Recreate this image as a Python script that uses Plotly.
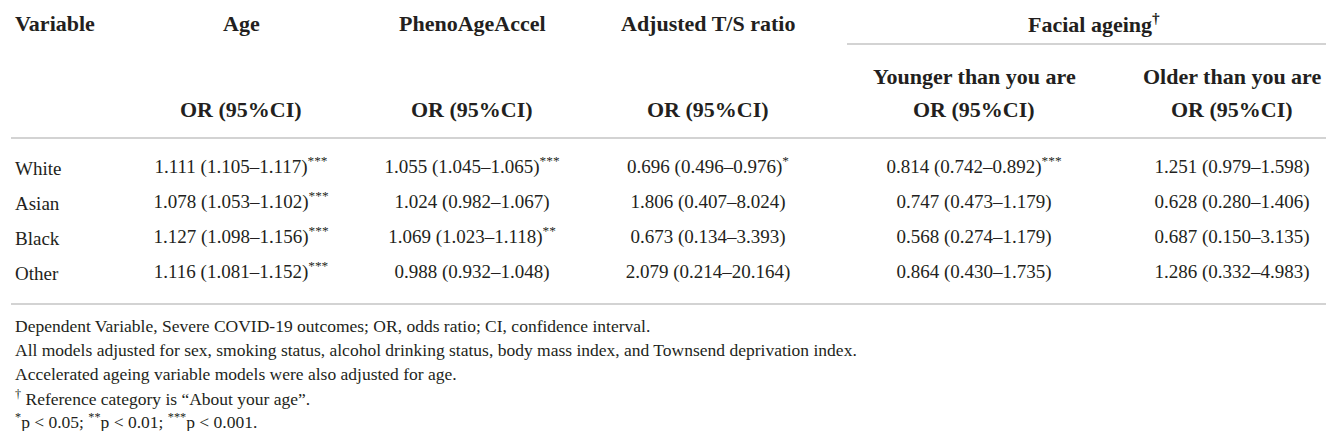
import plotly.graph_objects as go

# Table content
groups = ["White", "Asian", "Black", "Other"]
age_or = ["1.111 (1.105–1.117)<sup>***</sup>", "1.078 (1.053–1.102)<sup>***</sup>",
          "1.127 (1.098–1.156)<sup>***</sup>", "1.116 (1.081–1.152)<sup>***</sup>"]
pheno_or = ["1.055 (1.045–1.065)<sup>***</sup>", "1.024 (0.982–1.067)",
            "1.069 (1.023–1.118)<sup>**</sup>", "0.988 (0.932–1.048)"]
ts_or = ["0.696 (0.496–0.976)<sup>*</sup>", "1.806 (0.407–8.024)",
         "0.673 (0.134–3.393)", "2.079 (0.214–20.164)"]
younger_or = ["0.814 (0.742–0.892)<sup>***</sup>", "0.747 (0.473–1.179)",
              "0.568 (0.274–1.179)", "0.864 (0.430–1.735)"]
older_or = ["1.251 (0.979–1.598)", "0.628 (0.280–1.406)",
            "0.687 (0.150–3.135)", "1.286 (0.332–4.983)"]

col_titles = ["Age", "PhenoAgeAccel", "Adjusted T/S ratio"]
facial_title = "Facial ageing<sup>†</sup>"
facial_subs = ["Younger than you are", "Older than you are"]
or_label = "OR (95%CI)"

footnotes = [
    "Dependent Variable, Severe COVID-19 outcomes; OR, odds ratio; CI, confidence interval.",
    "All models adjusted for sex, smoking status, alcohol drinking status, body mass index, and Townsend deprivation index.",
    "Accelerated ageing variable models were also adjusted for age.",
    "<sup>†</sup> Reference category is “About your age”.",
    "<sup>*</sup>p &lt; 0.05; <sup>**</sup>p &lt; 0.01; <sup>***</sup>p &lt; 0.001.",
]

# layout (pixel positions on a 1334 x 431 canvas)
W, H = 1334, 431
col_x = [233, 464, 700, 966, 1224]
row_y = [160, 195, 230, 265]
note_y = [318, 342, 366, 390, 413]
txt = "#231f20"
serif = "Liberation Serif"

fig = go.Figure()

for cx, vals in zip(col_x, [age_or, pheno_or, ts_or, younger_or, older_or]):
    fig.add_trace(go.Scatter(
        x=[cx] * len(vals), y=row_y, mode="text", text=vals,
        textposition="middle center",
        textfont=dict(family=serif, size=19, color=txt),
        hoverinfo="skip", showlegend=False,
    ))

ann = []
hdr = dict(family=serif, size=22, color=txt)
ann.append(dict(x=5, y=15, text="<b>Variable</b>", xanchor="left", font=hdr))
for cx, t in zip(col_x[:3], col_titles):
    ann.append(dict(x=cx, y=15, text="<b>" + t + "</b>", font=hdr))
ann.append(dict(x=1086, y=15, text="<b>" + facial_title + "</b>", font=hdr))
for cx, t in zip(col_x[3:], facial_subs):
    ann.append(dict(x=cx, y=68, text="<b>" + t + "</b>", font=hdr))
for cx in col_x:
    ann.append(dict(x=cx, y=101, text="<b>" + or_label + "</b>", font=hdr))

for gy, g in zip(row_y, groups):
    ann.append(dict(x=5, y=gy, text=g, xanchor="left",
                    font=dict(family=serif, size=19, color=txt)))
for ny, n in zip(note_y, footnotes):
    ann.append(dict(x=5, y=ny, text=n, xanchor="left",
                    font=dict(family=serif, size=17.5, color=txt)))

for a in ann:
    a.update(xref="x", yref="y", showarrow=False, yanchor="middle")
    a.setdefault("xanchor", "center")

line = dict(color="#c4c4c4", width=1.5)
shapes = [
    dict(type="line", x0=3, x1=1331, y0=130, y1=130, line=line),
    dict(type="line", x0=839, x1=1331, y0=36, y1=36, line=line),
    dict(type="line", x0=3, x1=1331, y0=296, y1=296, line=line),
]
for s in shapes:
    s.update(xref="x", yref="y")

fig.update_layout(
    width=W, height=H, margin=dict(l=0, r=0, t=0, b=0),
    paper_bgcolor="white", plot_bgcolor="white",
    annotations=ann, shapes=shapes,
    xaxis=dict(range=[0, W], visible=False, fixedrange=True),
    yaxis=dict(range=[H, 0], visible=False, fixedrange=True),
)

fig.write_html("out.html")
